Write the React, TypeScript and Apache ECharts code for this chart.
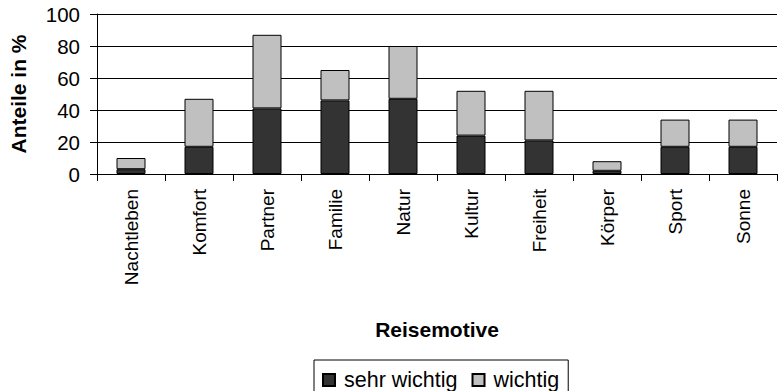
import React, { useEffect, useRef } from "react";
import * as echarts from "echarts";

const categories = ["Nachtleben", "Komfort", "Partner", "Familie", "Natur", "Kultur", "Freiheit", "Körper", "Sport", "Sonne"];
const sehrWichtig = [3, 17, 41, 46, 47, 24, 21, 2, 17, 17];
const wichtig = [7, 30, 46, 19, 33, 28, 31, 6, 17, 17];
const yTicks = [0, 20, 40, 60, 80, 100];

const FONT = "'Liberation Sans', Arial, sans-serif";

export default function App() {
  const ref = useRef<HTMLDivElement>(null);
  useEffect(() => {
    document.body.style.margin = "0";
    const chart = echarts.init(ref.current!, undefined, { renderer: "svg" });
    chart.setOption({
      animation: false,
      textStyle: { fontFamily: FONT, color: "#000" },
      grid: { left: 96, right: 1, top: 14, bottom: 217, containLabel: false },
      legend: {
        left: 314,
        top: 360,
        orient: "horizontal",
        itemWidth: 12,
        itemHeight: 12,
        itemGap: 14,
        borderColor: "#000",
        borderWidth: 1,
        borderRadius: 0,
        padding: [9, 9, 10, 8],
        textStyle: { fontFamily: FONT, fontSize: 21.5, lineHeight: 18, color: "#000", padding: [0, 0, 0, 4] },
        data: [
          { name: "sehr wichtig", icon: "rect" },
          { name: "wichtig", icon: "rect" },
        ],
      },
      xAxis: {
        type: "category",
        data: categories,
        name: "Reisemotive",
        nameLocation: "middle",
        nameGap: 145,
        nameTextStyle: { fontFamily: FONT, fontSize: 21, fontWeight: "bold", color: "#000" },
        axisLine: { lineStyle: { color: "#000", width: 1 } },
        axisTick: { show: true, alignWithLabel: false, length: 7, lineStyle: { color: "#000" } },
        axisLabel: { rotate: 90, margin: 15, fontFamily: FONT, fontSize: 19, color: "#000", interval: 0 },
      },
      yAxis: {
        type: "value",
        min: yTicks[0],
        max: yTicks[yTicks.length - 1],
        interval: 20,
        name: "Anteile in %",
        nameLocation: "middle",
        nameRotate: 90,
        nameGap: 68,
        nameTextStyle: { fontFamily: FONT, fontSize: 21, fontWeight: "bold", color: "#000" },
        axisLine: { show: true, lineStyle: { color: "#000", width: 1 } },
        axisTick: { show: true, length: 7, lineStyle: { color: "#000" } },
        axisLabel: { margin: 17, fontFamily: FONT, fontSize: 20.5, color: "#000" },
        splitLine: { show: true, lineStyle: { color: "#000", width: 1 } },
      },
      series: [
        {
          name: "sehr wichtig",
          type: "bar",
          stack: "total",
          barWidth: 29,
          data: sehrWichtig,
          itemStyle: { color: "#333333", borderColor: "#000", borderWidth: 1 },
        },
        {
          name: "wichtig",
          type: "bar",
          stack: "total",
          barWidth: 29,
          data: wichtig,
          itemStyle: { color: "#c0c0c0", borderColor: "#000", borderWidth: 1 },
        },
      ],
    });
    return () => chart.dispose();
  }, []);
  return <div ref={ref} style={{ width: 778, height: 391 }} />;
}
